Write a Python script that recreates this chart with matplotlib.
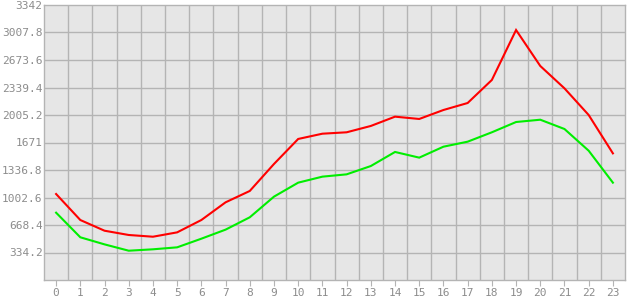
import matplotlib
matplotlib.use("Agg")
import matplotlib.pyplot as plt
import numpy as np

hours = list(range(24))
red = [1045, 729, 599, 547, 526, 579, 729, 944, 1082, 1410, 1714, 1778,
       1795, 1872, 1985, 1957, 2066, 2151, 2431, 3038, 2601, 2329, 2005, 1539]
green = [818, 519, 433, 356, 373, 397, 502, 612, 762, 1013, 1183, 1256,
         1284, 1385, 1556, 1487, 1620, 1681, 1795, 1920, 1948, 1835, 1571, 1183]
y_ticks = [334.2, 668.4, 1002.6, 1336.8, 1671, 2005.2, 2339.4, 2673.6, 3007.8, 3342]
y_labels = ["334.2", "668.4", "1002.6", "1336.8", "1671", "2005.2",
            "2339.4", "2673.6", "3007.8", "3342"]

GRID = "#b4b4b4"
TEXT = "#8c8c8c"

fig = plt.figure(figsize=(6.3, 3.0), dpi=100)
ax = fig.add_axes([44 / 630, 20 / 300, 581 / 630, 275 / 300])
ax.set_facecolor("#e6e6e6")

ax.plot(hours, red, color="#ff0000", lw=1.5, solid_joinstyle="miter")
ax.plot(hours, green, color="#00ee00", lw=1.5, solid_joinstyle="miter")

ax.set_xlim(-0.5, 23.5)
ax.set_ylim(0, 3342)
ax.set_xticks(hours)
ax.set_yticks(y_ticks)
ax.set_yticklabels(y_labels)
ax.grid(False)
# grid lines sit between the hour ticks
for v in np.arange(0.5, 23.5, 1):
    ax.axvline(v, color=GRID, lw=1, zorder=0)
for v in y_ticks[:-1]:
    ax.axhline(v, color=GRID, lw=1, zorder=0)

for s in ax.spines.values():
    s.set_color(GRID)
    s.set_linewidth(1)

ax.tick_params(axis="x", length=4, color=GRID, labelcolor=TEXT, labelsize=8, pad=2)
ax.tick_params(axis="y", length=0, labelcolor=TEXT, labelsize=8, pad=1)
for lbl in ax.get_xticklabels() + ax.get_yticklabels():
    lbl.set_family("DejaVu Sans Mono")

fig.savefig("out.png", dpi=100)
